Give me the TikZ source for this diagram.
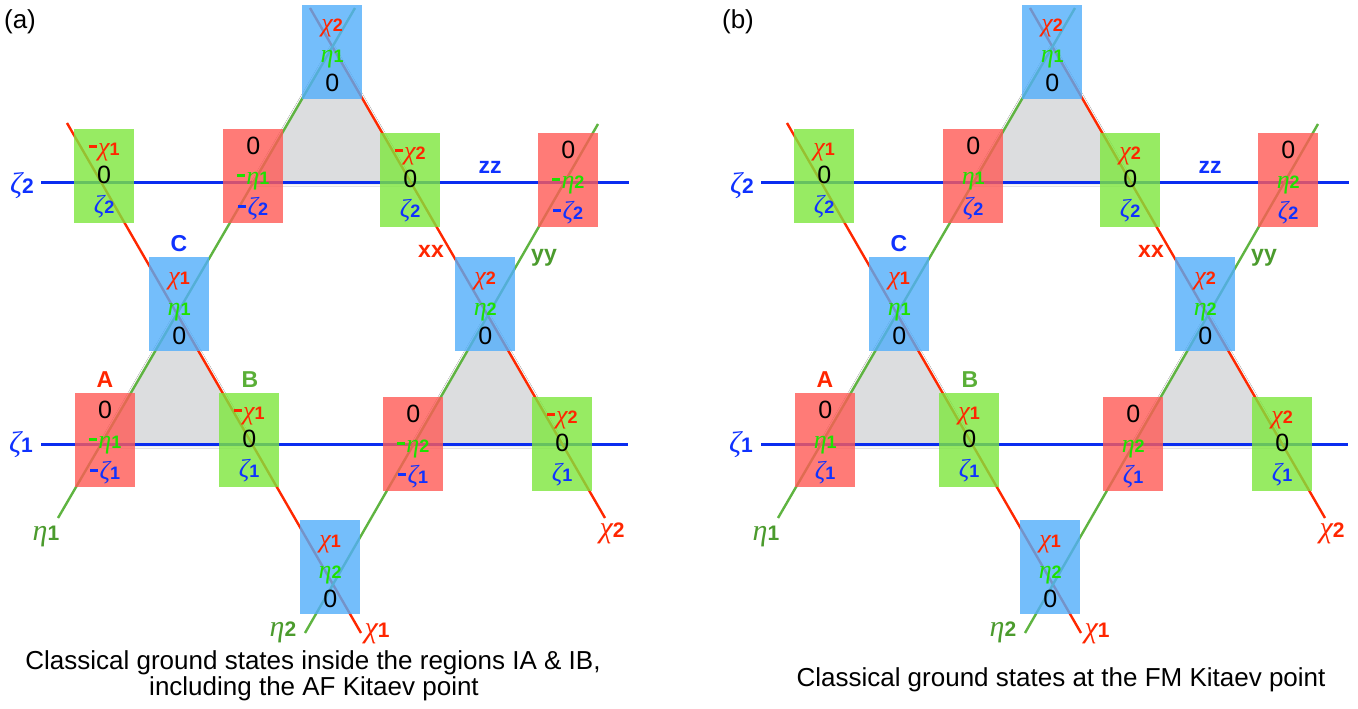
\documentclass[tikz,border=0pt]{standalone}
\usepackage{fontspec}
\setmainfont{Liberation Sans}
\newfontfamily\grkfont{Liberation Serif}
\usetikzlibrary{calc,shadows.blur}

% line colours
\definecolor{lnred}{RGB}{255,40,0}
\definecolor{lngreen}{RGB}{95,180,65}
\definecolor{lnblue}{RGB}{10,45,240}
% text colours
\definecolor{txred}{RGB}{255,38,0}
\definecolor{txgreen}{RGB}{30,225,0}
\definecolor{txblue}{RGB}{15,50,255}
\definecolor{lbgreen}{RGB}{75,155,45}
\definecolor{lbB}{RGB}{90,175,55}
% site box colours
\definecolor{bxred}{RGB}{255,90,86}
\definecolor{bxgreen}{RGB}{125,231,61}
\definecolor{bxblue}{RGB}{82,174,251}
\definecolor{shade}{RGB}{220,221,223}

\newcommand\gk[1]{{\grkfont\itshape #1}}
\newcommand\dg[1]{{\fontsize{18}{18}\selectfont\bfseries #1}}
\newcommand\odg[1]{{\fontsize{21}{21}\selectfont\bfseries #1}}
\newcommand\mn{\rule[7pt]{8pt}{3.5pt}\hspace{1.5pt}}
\newcommand\nomn{}
\newcommand\zr{{\fontsize{25}{25}\selectfont 0}}

% spin components written inside the site boxes
\newcommand\vchi[2]{\textcolor{txred}{#1\gk{χ}\dg{#2}}}
\newcommand\veta[2]{\textcolor{txgreen}{#1\gk{η}\dg{#2}}}
\newcommand\vzeta[2]{\textcolor{txblue}{#1\gk{ζ}\dg{#2}}}

\tikzset{
  site/.style={anchor=north west, minimum width=60pt, minimum height=94pt,
    inner sep=0pt, fill opacity=0.8, text opacity=1},
  entry/.style={anchor=base, inner sep=0pt, font=\fontsize{26}{26}\selectfont},
  outer/.style={anchor=base, inner sep=0pt, font=\fontsize{30}{30}\selectfont},
  bondtag/.style={anchor=base, inner sep=0pt, font=\fontsize{23}{23}\selectfont\bfseries},
  caption/.style={anchor=base, inner sep=0pt, font=\fontsize{26}{26}\selectfont},
  zbond/.style={draw=lnblue, line width=3pt},
  xbond/.style={draw=lnred, line width=2.4pt},
  ybond/.style={draw=lngreen, line width=2.4pt},
  plaquette/.style={fill=shade, blur shadow={shadow xshift=0pt, shadow yshift=-1pt,
    shadow blur radius=3pt, shadow opacity=30}},
}

% one site: name, fill, top-left corner, three entries, their baselines below the top
\newcommand\site[9]{%
  \node[site, fill=#2] (#1) at #3 {};
  \node[entry] (#1-a) at ($(#1.north)+(0,#7)$) {#4};
  \node[entry] (#1-b) at ($(#1.north)+(0,#8)$) {#5};
  \node[entry] (#1-c) at ($(#1.north)+(0,#9)$) {#6};
}

% one kagome panel: #1 name prefix, #2 sign marker
\newcommand\kagome[2]{%
  \coordinate (#1zt0) at (41,182);  \coordinate (#1zt1) at (629,182);
  \coordinate (#1zb0) at (41,444);  \coordinate (#1zb1) at (628,444);
  \coordinate (#1r1a) at (67,123);  \coordinate (#1r1b) at (361,633);
  \coordinate (#1r2a) at (310,8);   \coordinate (#1r2b) at (605,518);
  \coordinate (#1g1a) at (58,518);  \coordinate (#1g1b) at (355,8);
  \coordinate (#1g2a) at (305,633); \coordinate (#1g2b) at (598,124);
  % shaded up-triangles
  \fill[plaquette] (intersection of #1r2a--#1r2b and #1g1a--#1g1b)
    -- (intersection of #1g1a--#1g1b and #1zt0--#1zt1)
    -- (intersection of #1r2a--#1r2b and #1zt0--#1zt1) -- cycle;
  \fill[plaquette] (intersection of #1r1a--#1r1b and #1g1a--#1g1b)
    -- (intersection of #1g1a--#1g1b and #1zb0--#1zb1)
    -- (intersection of #1r1a--#1r1b and #1zb0--#1zb1) -- cycle;
  \fill[plaquette] (intersection of #1r2a--#1r2b and #1g2a--#1g2b)
    -- (intersection of #1g2a--#1g2b and #1zb0--#1zb1)
    -- (intersection of #1r2a--#1r2b and #1zb0--#1zb1) -- cycle;
  % bonds
  \draw[zbond] (#1zt0) -- (#1zt1);
  \draw[zbond] (#1zb0) -- (#1zb1);
  \draw[xbond] (#1r1a) -- (#1r1b);
  \draw[xbond] (#1r2a) -- (#1r2b);
  \draw[ybond] (#1g1a) -- (#1g1b);
  \draw[ybond] (#1g2a) -- (#1g2b);
  % sites
  \site{#1s1}{bxgreen}{(74,129)}{\vchi{#2}{1}}{\zr}{\vzeta{}{2}}{26}{54}{84}
  \site{#1s2}{bxred}{(223,129)}{\zr}{\veta{#2}{1}}{\vzeta{#2}{2}}{25}{55}{86}
  \site{#1s3}{bxblue}{(302,5)}{\vchi{}{2}}{\veta{}{1}}{\zr}{27}{58}{87}
  \site{#1s4}{bxgreen}{(380,133)}{\vchi{#2}{2}}{\zr}{\vzeta{}{2}}{26}{54}{84}
  \site{#1s5}{bxred}{(538,133)}{\zr}{\veta{#2}{2}}{\vzeta{#2}{2}}{25}{55}{86}
  \site{#1s6}{bxblue}{(149,257)}{\vchi{}{1}}{\veta{}{1}}{\zr}{27}{58}{87}
  \site{#1s7}{bxblue}{(455,257)}{\vchi{}{2}}{\veta{}{2}}{\zr}{27}{58}{87}
  \site{#1s8}{bxred}{(75,393)}{\zr}{\veta{#2}{1}}{\vzeta{#2}{1}}{25}{55}{86}
  \site{#1s9}{bxgreen}{(219,393)}{\vchi{#2}{1}}{\zr}{\vzeta{}{1}}{26}{54}{84}
  \site{#1s10}{bxred}{(383,397)}{\zr}{\veta{#2}{2}}{\vzeta{#2}{1}}{25}{55}{86}
  \site{#1s11}{bxgreen}{(532,397)}{\vchi{#2}{2}}{\zr}{\vzeta{}{1}}{26}{54}{84}
  \site{#1s12}{bxblue}{(300,520)}{\vchi{}{1}}{\veta{}{2}}{\zr}{27}{58}{87}
  % chain labels
  \node[outer] (#1lz2) at (22,193) {\textcolor{txblue}{\gk{ζ}\odg{2}}};
  \node[outer] (#1lz1) at (21,452) {\textcolor{txblue}{\gk{ζ}\odg{1}}};
  \node[outer] (#1le1) at (46,540) {\textcolor{lbgreen}{\gk{η}\odg{1}}};
  \node[outer] (#1le2) at (283,636) {\textcolor{lbgreen}{\gk{η}\odg{2}}};
  \node[outer] (#1lc1) at (377,637) {\textcolor{txred}{\gk{χ}\odg{1}}};
  \node[outer] (#1lc2) at (612,537) {\textcolor{txred}{\gk{χ}\odg{2}}};
  % bond and sublattice labels
  \node[bondtag, text=txblue] (#1zz) at (490,173) {zz};
  \node[bondtag, text=txred] (#1xx) at (431,257) {xx};
  \node[bondtag, text=lbgreen] (#1yy) at (544,261) {yy};
  \node[bondtag, text=txred] (#1A) at (105,387) {A};
  \node[bondtag, text=lbB] (#1B) at (250,387) {B};
  \node[bondtag, text=txblue] (#1C) at (179,251) {C};
}

\begin{document}
\begin{tikzpicture}[x=1pt, y=-1pt]
  \useasboundingbox (0,0) rectangle (1358,709);
  \fill[white] (0,0) rectangle (1358,709);

  \kagome{a}{\mn}
  \begin{scope}[xshift=720pt]
    \kagome{b}{\nomn}
  \end{scope}

  \node[anchor=base, inner sep=0pt, font=\fontsize{26}{26}\selectfont] (tag-a) at (20,29) {(a)};
  \node[anchor=base, inner sep=0pt, font=\fontsize{26}{26}\selectfont] (tag-b) at (738,29) {(b)};

  \node[caption] (cap-a1) at (313,669) {Classical ground states inside the regions IA \& IB,};
  \node[caption] (cap-a2) at (314,695) {including the AF Kitaev point};
  \node[caption] (cap-b) at (1061,686) {Classical ground states at the FM Kitaev point};
\end{tikzpicture}
\end{document}
